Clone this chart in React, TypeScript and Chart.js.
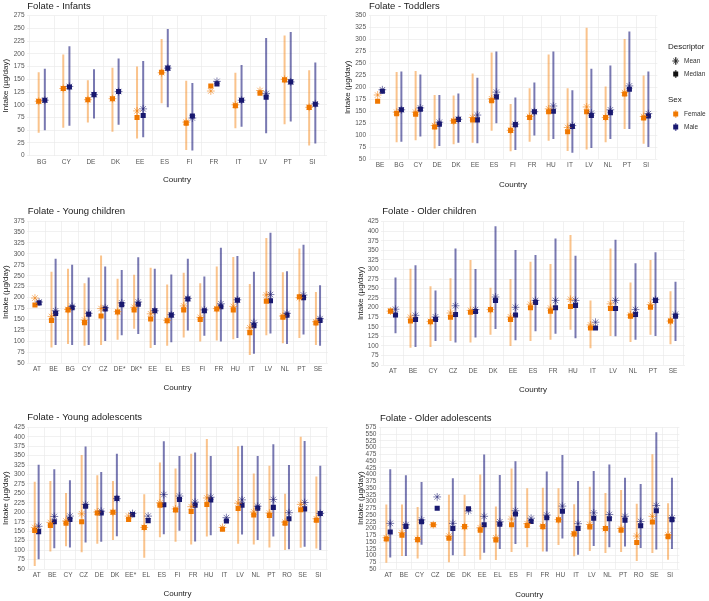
import React, { useEffect, useRef } from 'react';
import { Chart, registerables } from 'chart.js';

Chart.register(...registerables);

const FONT = '"Liberation Sans", Arial, Helvetica, sans-serif';
const ORANGE = '#F07800';
const NAVY = '#191970';
const ORANGE_LINE = 'rgba(245,135,25,0.5)';
const NAVY_LINE = 'rgba(30,30,125,0.6)';
const ORANGE_MEAN = 'rgba(240,120,0,0.55)';
const NAVY_MEAN = 'rgba(25,25,112,0.55)';

// ---------- Infants ----------
const infantsCountries = ['BG', 'CY', 'DE', 'DK', 'EE', 'ES', 'FI', 'FR', 'IT', 'LV', 'PT', 'SI'];
const infantsFemaleMedian = [107, 132, 110, 112, 75, 164, 64, 137, 98, 123, 149, 95];
const infantsFemaleMean = [107, 132, 110, 112, 88, 163, 66, 127, 100, 128, 150, 95];
const infantsFemaleLow = [45, 55, 65, 47, 34, 103, 11, null, 54, null, 62, 20];
const infantsFemaleHigh = [164, 199, 148, 173, 175, 229, 147, null, 163, null, 236, 168];
const infantsMaleMedian = [109, 135, 120, 126, 79, 172, 78, 141, 109, 115, 145, 101];
const infantsMaleMean = [109, 136, 120, 126, 92, 172, 74, 146, 109, 122, 145, 102];
const infantsMaleLow = [50, 59, 73, 61, 36, 95, 10, null, 57, 44, 67, 24];
const infantsMaleHigh = [171, 215, 170, 191, 186, 249, 143, null, 178, 231, 243, 183];

// ---------- Toddlers ----------
const toddlersCountries = ['BE', 'BG', 'CY', 'DE', 'DK', 'EE', 'ES', 'FI', 'FR', 'HU', 'IT', 'LV', 'NL', 'PT', 'SI'];
const toddlersFemaleMedian = [171, 145, 144, 117, 129, 132, 172, 110, 137, 149, 107, 149, 137, 186, 136];
const toddlersFemaleMean = [184, 148, 148, 120, 130, 137, 176, 110, 139, 155, 116, 159, 137, 189, 139];
const toddlersFemaleLow = [null, 85, 89, 72, 81, 84, 109, 66, 86, 88, 67, 70, 85, 113, 82];
const toddlersFemaleHigh = [null, 232, 234, 184, 183, 229, 273, 165, 198, 269, 198, 325, 202, 301, 225];
const toddlersMaleMedian = [192, 153, 154, 123, 133, 132, 180, 122, 149, 150, 118, 141, 147, 196, 140];
const toddlersMaleMean = [195, 153, 157, 127, 133, 142, 190, 123, 149, 161, 120, 146, 153, 203, 145];
const toddlersMaleLow = [null, 86, 97, 77, 84, 83, 125, 69, 99, 92, 63, 73, 92, 113, 75];
const toddlersMaleHigh = [null, 233, 227, 184, 187, 220, 275, 179, 210, 275, 194, 239, 246, 317, 233];

// ---------- Young children ----------
const youngChildrenCountries = ['AT', 'BE', 'BG', 'CY', 'CZ', 'DE*', 'DK*', 'EE', 'EL', 'ES', 'FI', 'FR', 'HU', 'IT', 'LV', 'NL', 'PT', 'SE'];
const youngChildrenFemaleMedian = [183, 148, 172, 143, 158, 167, 172, 151, 147, 172, 150, 174, 172, 120, 192, 155, 202, 142];
const youngChildrenFemaleMean = [199, 157, 173, 149, 175, 168, 178, 163, 148, 181, 155, 175, 180, 131, 206, 158, 200, 145];
const youngChildrenFemaleLow = [null, 86, 94, 90, 92, 104, 129, 85, 90, 109, 100, 102, 105, 69, 114, 96, 108, 92];
const youngChildrenFemaleHigh = [null, 259, 266, 233, 296, 243, 252, 268, 230, 257, 233, 271, 293, 231, 336, 258, 312, 213];
const youngChildrenMaleMedian = [188, 164, 177, 162, 174, 184, 185, 170, 160, 197, 170, 179, 194, 136, 193, 160, 200, 148];
const youngChildrenMaleMean = [190, 170, 180, 164, 177, 188, 190, 170, 161, 198, 172, 186, 195, 143, 207, 164, 206, 152];
const youngChildrenMaleLow = [null, 92, 92, 92, 101, 114, 117, 92, 98, 125, 113, 100, 108, 72, 118, 94, 116, 90];
const youngChildrenMaleHigh = [null, 289, 275, 246, 271, 263, 292, 266, 253, 289, 248, 314, 295, 259, 348, 260, 321, 228];

// ---------- Older children ----------
const olderChildrenCountries = ['AT', 'BE', 'CY', 'CZ', 'DE', 'DK', 'EE', 'ES', 'FR', 'HU', 'IT', 'LV', 'NL', 'PT', 'SE'];
const olderChildrenFemaleMedian = [191, 165, 163, 175, 188, 195, 169, 200, 191, 203, 147, 198, 178, 201, 165];
const olderChildrenFemaleMean = [191, 175, 164, 186, 193, 195, 176, 209, 199, 222, 155, 210, 181, 208, 165];
const olderChildrenFemaleLow = [null, 95, 97, 113, 109, 129, 100, 113, 116, 142, 94, 126, 110, 129, 104];
const olderChildrenFemaleHigh = [null, 302, 256, 277, 325, 252, 275, 320, 314, 390, 219, 355, 266, 325, 243];
const olderChildrenMaleMedian = [181, 169, 169, 182, 190, 219, 181, 214, 200, 206, 147, 198, 182, 219, 178];
const olderChildrenMaleMean = [196, 180, 176, 205, 195, 228, 201, 219, 219, 219, 162, 219, 195, 221, 183];
const olderChildrenMaleLow = [133, 97, 113, 109, 122, 144, 115, 138, 132, 120, null, 125, 116, 126, 113];
const olderChildrenMaleHigh = [279, 311, 245, 355, 301, 413, 351, 338, 381, 336, null, 378, 316, 345, 268];

// ---------- Young adolescents ----------
const youngAdolCountries = ['AT', 'BE', 'CY', 'CZ', 'DE', 'DK', 'EE*', 'EL', 'ES', 'FI', 'FR', 'HU', 'IT', 'LV', 'NL', 'PT', 'RO', 'SE', 'SI'];
const youngAdolFemaleMedian = [152, 165, 171, 175, 198, 200, 181, 160, 219, 206, 202, 221, 155, 210, 193, 192, 171, 207, 179];
const youngAdolFemaleMean = [160, 173, 177, 196, 201, 200, 190, 160, 225, 209, 215, 238, 160, 224, 201, 198, 174, 221, 183];
const youngAdolFemaleLow = [58, 96, 110, 94, 117, 127, null, 80, 134, 122, 115, 136, null, 117, 115, 107, 100, 106, 104];
const youngAdolFemaleHigh = [281, 283, 251, 352, 298, 283, null, 248, 332, 316, 355, 394, null, 375, 303, 323, 249, 400, 295];
const youngAdolMaleMedian = [149, 175, 181, 216, 198, 237, 194, 178, 220, 234, 219, 233, 177, 219, 211, 213, 183, 209, 197];
const youngAdolMaleMean = [163, 189, 190, 221, 203, 236, 197, 190, 247, 243, 227, 240, 186, 233, 216, 234, 199, 226, 197];
const youngAdolMaleLow = [76, 105, 107, 120, 122, 137, null, null, 142, 151, 123, 139, null, 141, 127, 136, 102, 109, 100];
const youngAdolMaleHigh = [326, 314, 285, 374, 307, 355, null, null, 388, 349, 358, 349, null, 376, 349, 380, 325, 389, 323];

// ---------- Older adolescents ----------
const olderAdolCountries = ['AT', 'BE', 'CY', 'CZ', 'DE', 'DK', 'EE', 'EL', 'ES', 'FI', 'FR', 'HU', 'IT', 'LV', 'NL', 'PT', 'RO', 'SE', 'SI'];
const olderAdolFemaleMedian = [161, 175, 159, 214, 164, 207, 194, 158, 214, 211, 207, 232, 180, 206, 200, 194, 148, 224, 170];
const olderAdolFemaleMean = [166, 185, 160, 214, 172, 207, 203, 165, 235, 218, 209, 233, 180, 215, 199, 200, 172, 245, 176];
const olderAdolFemaleLow = [73, 98, 89, null, 75, 98, 84, 83, 113, 131, 115, 139, 97, 117, 109, 113, 80, 109, 84];
const olderAdolFemaleHigh = [289, 289, 280, null, 325, 325, 400, 282, 422, 349, 351, 349, 290, 355, 332, 343, 292, 475, 294];
const olderAdolMaleMedian = [187, 208, 225, 275, 200, 273, 214, 216, 254, 226, 240, 264, 200, 238, 236, 231, 210, 266, 233];
const olderAdolMaleMean = [219, 214, 232, 317, 219, 265, 245, 225, 266, 238, 250, 283, 218, 258, 252, 245, 226, 285, 239];
const olderAdolMaleLow = [93, 98, 140, null, 101, null, 110, 124, 143, null, 115, 163, 103, 135, 131, 133, 128, 122, 124];
const olderAdolMaleHigh = [420, 397, 372, null, 386, null, 474, 398, 449, null, 411, 472, 376, 413, 437, 388, 365, 557, 388];

type Num = number | null;
interface PanelData {
  title: string;
  countries: string[];
  fMed: number[]; fMean: number[]; fLo: Num[]; fHi: Num[];
  mMed: number[]; mMean: number[]; mLo: Num[]; mHi: Num[];
  yMin: number; yMax: number;
}
interface PanelLayout {
  box: { x: number; y: number; w: number; h: number };
  area: { l: number; t: number; r: number; b: number };
  yTitleX: number;
  xTitleY: number;
  titleAt: { x: number; y: number };
  legend?: boolean;
}

const PANELS: PanelData[] = [
  { title: 'Folate - Infants', countries: infantsCountries, fMed: infantsFemaleMedian, fMean: infantsFemaleMean, fLo: infantsFemaleLow, fHi: infantsFemaleHigh, mMed: infantsMaleMedian, mMean: infantsMaleMean, mLo: infantsMaleLow, mHi: infantsMaleHigh, yMin: 0, yMax: 275 },
  { title: 'Folate - Toddlers', countries: toddlersCountries, fMed: toddlersFemaleMedian, fMean: toddlersFemaleMean, fLo: toddlersFemaleLow, fHi: toddlersFemaleHigh, mMed: toddlersMaleMedian, mMean: toddlersMaleMean, mLo: toddlersMaleLow, mHi: toddlersMaleHigh, yMin: 50, yMax: 350 },
  { title: 'Folate - Young children', countries: youngChildrenCountries, fMed: youngChildrenFemaleMedian, fMean: youngChildrenFemaleMean, fLo: youngChildrenFemaleLow, fHi: youngChildrenFemaleHigh, mMed: youngChildrenMaleMedian, mMean: youngChildrenMaleMean, mLo: youngChildrenMaleLow, mHi: youngChildrenMaleHigh, yMin: 50, yMax: 375 },
  { title: 'Folate - Older children', countries: olderChildrenCountries, fMed: olderChildrenFemaleMedian, fMean: olderChildrenFemaleMean, fLo: olderChildrenFemaleLow, fHi: olderChildrenFemaleHigh, mMed: olderChildrenMaleMedian, mMean: olderChildrenMaleMean, mLo: olderChildrenMaleLow, mHi: olderChildrenMaleHigh, yMin: 50, yMax: 425 },
  { title: 'Folate - Young adolescents', countries: youngAdolCountries, fMed: youngAdolFemaleMedian, fMean: youngAdolFemaleMean, fLo: youngAdolFemaleLow, fHi: youngAdolFemaleHigh, mMed: youngAdolMaleMedian, mMean: youngAdolMaleMean, mLo: youngAdolMaleLow, mHi: youngAdolMaleHigh, yMin: 50, yMax: 425 },
  { title: 'Folate - Older adolescents', countries: olderAdolCountries, fMed: olderAdolFemaleMedian, fMean: olderAdolFemaleMean, fLo: olderAdolFemaleLow, fHi: olderAdolFemaleHigh, mMed: olderAdolMaleMedian, mMean: olderAdolMaleMean, mLo: olderAdolMaleLow, mHi: olderAdolMaleHigh, yMin: 50, yMax: 575 },
];

const LAYOUTS: PanelLayout[] = [
  { box: { x: 0, y: 0, w: 340, h: 195 }, area: { l: 27, t: 15.7, r: 327, b: 155.7 }, yTitleX: 6, xTitleY: 180, titleAt: { x: 27.3, y: 6 } },
  { box: { x: 340, y: 0, w: 369, h: 195 }, area: { l: 368.6, t: 15.7, r: 657.4, b: 159 }, yTitleX: 348, xTitleY: 184.3, titleAt: { x: 369, y: 6.7 }, legend: true },
  { box: { x: 0, y: 195, w: 340, h: 200 }, area: { l: 27.1, t: 221, r: 327.9, b: 363.3 }, yTitleX: 6, xTitleY: 387.7, titleAt: { x: 27.7, y: 211 } },
  { box: { x: 340, y: 195, w: 369, h: 200 }, area: { l: 381, t: 221.7, r: 685, b: 365 }, yTitleX: 361, xTitleY: 389.8, titleAt: { x: 382.3, y: 211 } },
  { box: { x: 0, y: 395, w: 340, h: 206 }, area: { l: 27.3, t: 427.3, r: 327.7, b: 569 }, yTitleX: 6, xTitleY: 594, titleAt: { x: 27.3, y: 417.7 } },
  { box: { x: 340, y: 395, w: 369, h: 206 }, area: { l: 378.9, t: 427.3, r: 679.4, b: 569 }, yTitleX: 361, xTitleY: 594.3, titleAt: { x: 380, y: 418 } },
];

const DODGE = 0.125;
const AXIS_TITLE_SIZE = 8;
const AXIS_TITLE_LH = AXIS_TITLE_SIZE * 1.2;

function rangeData(lo: Num[], hi: Num[], d: number) {
  const out: { x: number; y: [number, number] }[] = [];
  lo.forEach((l, i) => {
    const h = hi[i];
    if (l != null && h != null) out.push({ x: i + d, y: [l, h] });
  });
  return out;
}
function pointData(vals: number[], d: number) {
  return vals.map((v, i) => ({ x: i + d, y: v }));
}

function drawAsterisk(ctx: CanvasRenderingContext2D, x: number, y: number, r: number) {
  ctx.beginPath();
  for (let k = 0; k < 4; k++) {
    const a = (k * Math.PI) / 4;
    ctx.moveTo(x - Math.cos(a) * r, y - Math.sin(a) * r);
    ctx.lineTo(x + Math.cos(a) * r, y + Math.sin(a) * r);
  }
  ctx.stroke();
}

function buildConfig(p: PanelData, L: PanelLayout): any {
  const n = p.countries.length;
  const yAxisW = L.area.l - (L.yTitleX - AXIS_TITLE_LH / 2);
  const xAxisBottom = L.xTitleY + AXIS_TITLE_LH / 2;
  const xAxisH = xAxisBottom - L.area.b;
  const padding = {
    left: L.yTitleX - AXIS_TITLE_LH / 2 - L.box.x,
    top: L.area.t - L.box.y,
    right: L.box.x + L.box.w - L.area.r,
    bottom: L.box.y + L.box.h - xAxisBottom,
  };

  const decor = {
    id: 'decor',
    afterDraw(chart: any) {
      const ctx: CanvasRenderingContext2D = chart.ctx;
      ctx.save();
      ctx.fillStyle = '#1a1a1a';
      ctx.font = `9.5px ${FONT}`;
      ctx.textBaseline = 'middle';
      ctx.textAlign = 'left';
      ctx.fillText(p.title, L.titleAt.x - L.box.x, L.titleAt.y - L.box.y);
      if (L.legend) {
        const ox = L.box.x;
        const kx = 675.7 - ox;
        const tx = 684 - ox;
        ctx.font = `8px ${FONT}`;
        ctx.fillText('Descriptor', 668 - ox, 47);
        ctx.fillText('Sex', 668 - ox, 100);
        ctx.font = `6.5px ${FONT}`;
        ctx.fillStyle = '#333';
        ctx.fillText('Mean', tx, 61);
        ctx.fillText('Median', tx, 74);
        ctx.fillText('Female', tx, 114);
        ctx.fillText('Male', tx, 127);
        const key = (y: number, lineCol: string, draw: () => void) => {
          ctx.strokeStyle = lineCol;
          ctx.lineWidth = 1.6;
          ctx.beginPath();
          ctx.moveTo(kx, y - 4);
          ctx.lineTo(kx, y + 4);
          ctx.stroke();
          draw();
        };
        key(61, 'rgba(0,0,0,0.45)', () => {
          ctx.strokeStyle = '#222';
          ctx.lineWidth = 0.9;
          drawAsterisk(ctx, kx, 61, 3.4);
        });
        key(74, 'rgba(0,0,0,0.6)', () => {
          ctx.fillStyle = '#111';
          ctx.fillRect(kx - 2.5, 74 - 2.5, 5, 5);
        });
        key(114, ORANGE_LINE, () => {
          ctx.fillStyle = ORANGE;
          ctx.fillRect(kx - 2.5, 114 - 2.5, 5, 5);
        });
        key(127, NAVY_LINE, () => {
          ctx.fillStyle = NAVY;
          ctx.fillRect(kx - 2.5, 127 - 2.5, 5, 5);
        });
      }
      ctx.restore();
    },
  };

  const tickFont = { size: 6.5, family: FONT };
  const grid = { color: '#ebebeb', lineWidth: 0.7, drawTicks: false };

  return {
    type: 'bar',
    data: {
      datasets: [
        { type: 'scatter', label: 'Female mean', data: pointData(p.fMean, -DODGE), pointStyle: 'star', pointRadius: 3.9, pointBorderColor: ORANGE_MEAN, pointBackgroundColor: ORANGE_MEAN, pointBorderWidth: 1, order: 1 },
        { type: 'scatter', label: 'Male mean', data: pointData(p.mMean, DODGE), pointStyle: 'star', pointRadius: 3.9, pointBorderColor: NAVY_MEAN, pointBackgroundColor: NAVY_MEAN, pointBorderWidth: 1, order: 1 },
        { type: 'scatter', label: 'Female median', data: pointData(p.fMed, -DODGE), pointStyle: 'rect', pointRadius: 3.6, pointBackgroundColor: ORANGE, pointBorderColor: ORANGE, pointBorderWidth: 0, order: 2 },
        { type: 'scatter', label: 'Male median', data: pointData(p.mMed, DODGE), pointStyle: 'rect', pointRadius: 3.6, pointBackgroundColor: NAVY, pointBorderColor: NAVY, pointBorderWidth: 0, order: 2 },
        { type: 'bar', label: 'Female range', data: rangeData(p.fLo, p.fHi, -DODGE), backgroundColor: ORANGE_LINE, borderWidth: 0, grouped: false, maxBarThickness: 2, order: 3 },
        { type: 'bar', label: 'Male range', data: rangeData(p.mLo, p.mHi, DODGE), backgroundColor: NAVY_LINE, borderWidth: 0, grouped: false, maxBarThickness: 2, order: 3 },
      ],
    },
    options: {
      animation: false,
      responsive: false,
      devicePixelRatio: 1,
      events: [],
      layout: { padding },
      plugins: { legend: { display: false }, tooltip: { enabled: false }, title: { display: false } },
      scales: {
        x: {
          type: 'linear',
          min: -0.6,
          max: n - 0.4,
          offset: false,
          afterBuildTicks: (s: any) => {
            s.ticks = p.countries.map((_, i) => ({ value: i }));
          },
          afterFit: (s: any) => {
            s.height = xAxisH;
          },
          ticks: {
            callback: (v: any) => p.countries[Math.round(v)] ?? '',
            font: tickFont,
            color: '#555',
            padding: 2.5,
            maxRotation: 0,
            autoSkip: false,
          },
          grid,
          border: { display: false },
          title: { display: true, text: 'Country', font: { size: AXIS_TITLE_SIZE, family: FONT }, color: '#222', padding: 0 },
        },
        y: {
          type: 'linear',
          min: p.yMin,
          max: p.yMax,
          afterFit: (s: any) => {
            s.width = yAxisW;
          },
          ticks: { stepSize: 25, font: tickFont, color: '#555', padding: 2.5, autoSkip: false },
          grid,
          border: { display: false },
          title: { display: true, text: 'Intake (µg/day)', font: { size: AXIS_TITLE_SIZE, family: FONT }, color: '#222', padding: 0 },
        },
      },
    },
    plugins: [decor],
  };
}

function Panel({ index }: { index: number }) {
  const ref = useRef<HTMLCanvasElement>(null);
  const L = LAYOUTS[index];
  useEffect(() => {
    if (!ref.current) return;
    const chart = new Chart(ref.current, buildConfig(PANELS[index], LAYOUTS[index]));
    return () => chart.destroy();
  }, [index]);
  return (
    <canvas
      ref={ref}
      width={L.box.w}
      height={L.box.h}
      style={{ position: 'absolute', left: L.box.x, top: L.box.y, width: L.box.w, height: L.box.h }}
    />
  );
}

export default function App() {
  return (
    <div style={{ position: 'absolute', left: 0, top: 0, width: 709, height: 601, background: '#fff', overflow: 'hidden' }}>
      {PANELS.map((_, i) => (
        <Panel key={i} index={i} />
      ))}
    </div>
  );
}
